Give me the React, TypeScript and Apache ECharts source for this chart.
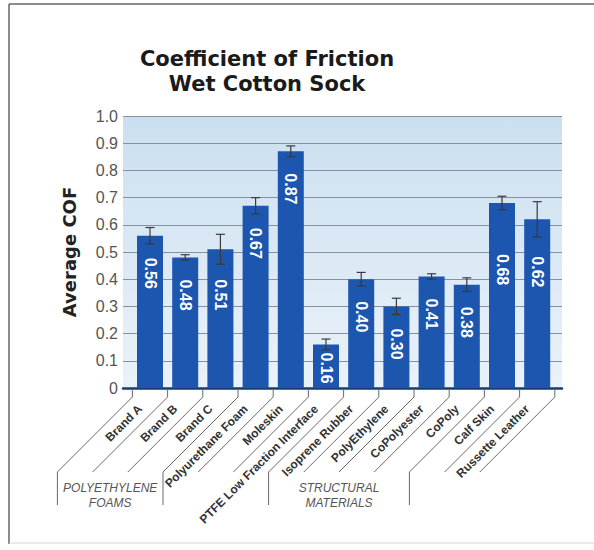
import React, { useEffect, useRef } from 'react';
import * as echarts from 'echarts';

const categories = [
  'Brand A', 'Brand B', 'Brand C', 'Polyurethane Foam', 'Moleskin',
  'PTFE Low Fraction Interface', 'Isoprene Rubber', 'PolyEthylene',
  'CoPolyester', 'CoPoly', 'Calf Skin', 'Russette Leather',
];
const cofValues = [0.56, 0.48, 0.51, 0.67, 0.87, 0.16, 0.40, 0.30, 0.41, 0.38, 0.68, 0.62];
const cofErrors = [0.03, 0.01, 0.055, 0.03, 0.02, 0.02, 0.025, 0.03, 0.01, 0.025, 0.025, 0.065];
const groupNames = ['POLYETHYLENE\nFOAMS', 'STRUCTURAL\nMATERIALS'];
const groupStart = [0, 6];
const groupEnd = [3, 10];
const yMin = 0;
const yMax = 1;
const yInterval = 0.1;

const TITLE = 'Coefficient of Friction\nWet Cotton Sock';
const Y_NAME = 'Average COF';

const SANS = "'Liberation Sans', Arial, sans-serif";
const HEAVY = "'DejaVu Sans', 'Liberation Sans', sans-serif";

const TICK = 9;
const DIAG = 75;
const DROP = 33;

export default function App() {
  const ref = useRef<HTMLDivElement>(null);

  useEffect(() => {
    if (!ref.current) return;
    const chart = echarts.init(ref.current, undefined, { renderer: 'svg' });

    const labelDist: Record<number, number> = { 2: 30, 5: 8, 10: 51, 11: 37 };
    const bracketSet = new Set<number>([...groupStart, ...groupEnd]);
    const boundaries = Array.from({ length: categories.length + 1 }, (_, k) => k);

    const boundaryX = (api: any, k: number) => {
      const band = api.size([1, 0])[0];
      const c0 = api.coord([0, 0])[0];
      return c0 + (k - 0.5) * band;
    };

    const option: any = {
      animation: false,
      backgroundColor: '#ffffff',
      graphic: [
        { type: 'line', shape: { x1: 9, y1: 4, x2: 600, y2: 4 }, style: { stroke: '#666', lineWidth: 1.5 } },
        { type: 'line', shape: { x1: 9, y1: 4, x2: 9, y2: 544 }, style: { stroke: '#666', lineWidth: 1.5 } },
        { type: 'line', shape: { x1: 9, y1: 543, x2: 600, y2: 543 }, style: { stroke: '#d4d4d4', lineWidth: 1 } },
        {
          type: 'text',
          x: 267,
          y: 46,
          style: {
            text: TITLE,
            textAlign: 'center',
            textVerticalAlign: 'top',
            font: `bold 21px ${HEAVY}`,
            lineHeight: 25,
            fill: '#1a1a1a',
          },
        },
      ],
      grid: [
        {
          left: 123, right: 32, top: 116, bottom: 162, show: true, borderWidth: 0,
          backgroundColor: new echarts.graphic.LinearGradient(0, 0, 0, 1, [
            { offset: 0, color: '#cbdff0' },
            { offset: 1, color: '#eaf2f9' },
          ]),
        },
        { left: 132.4, right: 39.2, top: 116, bottom: 162 },
      ],
      xAxis: [
        {
          gridIndex: 0, type: 'value', min: 0, max: 1,
          axisLine: { show: true, lineStyle: { color: '#1a3a78', width: 2.5 } },
          axisTick: { show: false }, axisLabel: { show: false }, splitLine: { show: false },
        },
        {
          gridIndex: 1, type: 'category', data: categories,
          axisLine: { show: false }, axisTick: { show: false },
          axisLabel: {
            interval: 0, rotate: 45, margin: TICK, padding: [0, 14, 0, 0],
            fontSize: 12, fontWeight: 'bold', color: '#333', fontFamily: SANS,
          },
        },
      ],
      yAxis: [
        {
          gridIndex: 0, type: 'value', min: yMin, max: yMax, interval: yInterval,
          axisLine: { show: false }, axisTick: { show: false },
          axisLabel: {
            margin: 5, fontSize: 16, color: '#555', fontFamily: SANS,
            formatter: (v: number) => (v === 0 ? '0' : v.toFixed(1)),
          },
          splitLine: { show: true, lineStyle: { color: '#8392a0', width: 1 } },
          name: Y_NAME, nameLocation: 'middle', nameGap: 45,
          nameTextStyle: { fontSize: 18, fontWeight: 'bold', color: '#222', fontFamily: HEAVY },
        },
        { gridIndex: 1, type: 'value', min: yMin, max: yMax, show: false },
      ],
      series: [
        {
          type: 'bar',
          xAxisIndex: 1, yAxisIndex: 1,
          barWidth: 26,
          itemStyle: { color: '#1d56ae' },
          label: {
            show: true, rotate: -90, position: 'insideTop', distance: 22,
            align: 'left', verticalAlign: 'middle',
            color: '#ffffff', fontSize: 16, fontWeight: 'bold', fontFamily: SANS,
            formatter: (p: any) => Number(p.value).toFixed(2),
          },
          data: cofValues.map((v, i) => ({
            value: v,
            label: labelDist[i] !== undefined ? { distance: labelDist[i] } : undefined,
          })),
          z: 2,
        },
        {
          type: 'custom',
          xAxisIndex: 1, yAxisIndex: 1,
          z: 3,
          clip: false,
          data: cofValues.map((v, i) => [i, v, cofErrors[i]]),
          renderItem: (params: any, api: any) => {
            const i = api.value(0);
            const v = api.value(1);
            const e = api.value(2);
            const top = api.coord([i, v + e]);
            const bot = api.coord([i, v - e]);
            const hw = 4.5;
            const style = { stroke: '#3a3a3a', lineWidth: 1.2 };
            return {
              type: 'group',
              children: [
                { type: 'line', shape: { x1: top[0], y1: top[1], x2: bot[0], y2: bot[1] }, style },
                { type: 'line', shape: { x1: top[0] - hw, y1: top[1], x2: top[0] + hw, y2: top[1] }, style },
                { type: 'line', shape: { x1: bot[0] - hw, y1: bot[1], x2: bot[0] + hw, y2: bot[1] }, style },
              ],
            };
          },
        },
        {
          type: 'custom',
          xAxisIndex: 1, yAxisIndex: 1,
          clip: false,
          silent: true,
          data: boundaries.map((k) => [0, 0, k]),
          renderItem: (params: any, api: any) => {
            const k = api.value(2);
            const x = boundaryX(api, k);
            const y0 = api.coord([0, 0])[1];
            const pts: number[][] = [
              [x, y0 + 1],
              [x, y0 + TICK],
              [x - DIAG, y0 + TICK + DIAG],
            ];
            if (bracketSet.has(k)) pts.push([x - DIAG, y0 + TICK + DIAG + DROP]);
            return {
              type: 'polyline',
              shape: { points: pts },
              style: { stroke: '#6a6a6a', lineWidth: 1, fill: null },
            };
          },
        },
        {
          type: 'custom',
          xAxisIndex: 1, yAxisIndex: 1,
          clip: false,
          silent: true,
          data: groupNames.map((_, g) => [0, 0, groupStart[g], groupEnd[g], g]),
          renderItem: (params: any, api: any) => {
            const s = api.value(2);
            const e = api.value(3);
            const g = api.value(4);
            const xs = boundaryX(api, s) - DIAG;
            const xe = boundaryX(api, e) - DIAG;
            const y0 = api.coord([0, 0])[1];
            return {
              type: 'text',
              x: (xs + xe) / 2,
              y: y0 + TICK + DIAG + 8,
              style: {
                text: groupNames[g],
                textAlign: 'center',
                textVerticalAlign: 'top',
                font: `italic 12px ${SANS}`,
                lineHeight: 15,
                fill: '#555',
              },
            };
          },
        },
      ],
    };

    chart.setOption(option);
    return () => chart.dispose();
  }, []);

  return (
    <div
      ref={ref}
      style={{ position: 'fixed', left: 0, top: 0, width: 594, height: 550 }}
    />
  );
}
